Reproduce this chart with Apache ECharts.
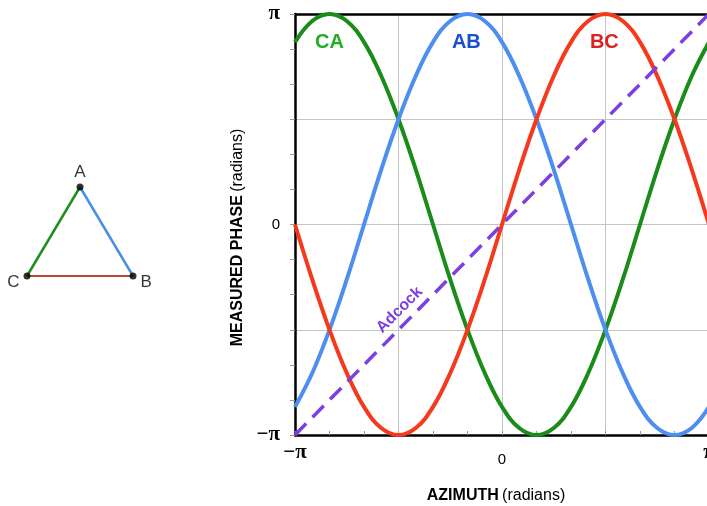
<!DOCTYPE html>
<html>
<head>
<meta charset="utf-8">
<script src="https://cdn.jsdelivr.net/npm/echarts@6/dist/echarts.min.js"></script>
<style>
  html, body { margin: 0; padding: 0; background: #fff; }
  #chart { width: 707px; height: 506px; }
</style>
</head>
<body>
<div id="chart"></div>
<script>
// azimuth and phase are in degrees internally, labelled as radians
const azimuth = [-180, -165, -150, -135, -120, -105, -90, -75, -60, -45, -30, -15, 0,
  15, 30, 45, 60, 75, 90, 105, 120, 135, 150, 165, 180];
const phaseCA = [156, 174, 180, 174, 156, 127, 90, 47, 0, -47, -90, -127, -156,
  -174, -180, -174, -156, -127, -90, -47, 0, 47, 90, 127, 156];
const phaseAB = [-156, -127, -90, -47, 0, 47, 90, 127, 156, 174, 180, 174, 156,
  127, 90, 47, 0, -47, -90, -127, -156, -174, -180, -174, -156];
const phaseBC = [0, -47, -90, -127, -156, -174, -180, -174, -156, -127, -90, -47, 0,
  47, 90, 127, 156, 174, 180, 174, 156, 127, 90, 47, 0];
const adcock = [[-180, -180], [180, 180]];

// triangle sketch: vertices and edges
const vertexA = [0.5, 1];
const vertexB = [1, 0];
const vertexC = [0, 0];

const GREEN = '#1a8c1a';
const BLUE = '#4d8ff0';
const RED = '#f5391c';
const PURPLE = '#7b3fe4';

const chart = echarts.init(document.getElementById('chart'));

const piLabel = (v) => {
  if (v === -180) return '{p|−π}';
  if (v === 180) return '{p|π}';
  if (v === 0) return '{z|0}';
  return '';
};
const labelRich = {
  p: {fontFamily: 'Liberation Serif', fontWeight: 'bold', fontSize: 21, color: '#000'},
  z: {fontFamily: 'Liberation Sans', fontSize: 15, color: '#000'}
};
const xLabelRich = {
  p: labelRich.p,
  z: {fontFamily: 'Liberation Sans', fontSize: 15, color: '#000', padding: [10, 0, 0, 0]}
};
const nameRich = {
  b: {fontFamily: 'Liberation Sans', fontWeight: 'bold', fontSize: 16, color: '#000'},
  n: {fontFamily: 'Liberation Sans', fontSize: 16, color: '#000'}
};

const zipped = (ys) => azimuth.map((a, i) => [a, ys[i]]);

const textMark = (text, at, color, size, rotate) => ({
  symbol: 'circle',
  symbolSize: 1,
  itemStyle: {color: 'transparent'},
  label: {
    show: true,
    position: 'inside',
    formatter: text,
    rotate: rotate || 0,
    fontFamily: 'Liberation Sans',
    fontWeight: 'bold',
    fontSize: size,
    color: color
  },
  data: [{coord: at}]
});

const curve = (name, ys, color, at, textColor) => ({
  name: name,
  type: 'line',
  xAxisIndex: 0,
  yAxisIndex: 0,
  smooth: 0.4,
  showSymbol: false,
  lineStyle: {color: color, width: 4},
  data: zipped(ys),
  markPoint: textMark(name, at, textColor, 20),
  z: 3
});

chart.setOption({
  animation: false,
  grid: [
    {left: 295, top: 14, width: 414, height: 421, outerBoundsMode: 'none', containLabel: false},
    {left: 27, top: 187, width: 106, height: 89, outerBoundsMode: 'none', containLabel: false}
  ],
  xAxis: [
    {
      type: 'value', gridIndex: 0, min: -180, max: 180, interval: 30,
      name: '{b|AZIMUTH} {n|(radians)}',
      nameLocation: 'middle', nameGap: 53,
      nameTextStyle: {rich: nameRich, padding: [0, 12, 0, 0]},
      axisLine: {onZero: false, lineStyle: {color: '#000', width: 2.5}},
      axisTick: {inside: true, length: 4, lineStyle: {color: '#999'}},
      axisLabel: {formatter: piLabel, rich: xLabelRich, margin: 7},
      splitLine: {show: true, lineStyle: {color: ['#c4c4c4', 'transparent', 'transparent'], width: 1}}
    },
    {
      type: 'value', gridIndex: 0, position: 'top', min: -180, max: 180,
      axisLine: {show: true, onZero: false, lineStyle: {color: '#000', width: 2.5}},
      axisTick: {show: false}, axisLabel: {show: false}, splitLine: {show: false}
    },
    {
      type: 'value', gridIndex: 1, min: 0, max: 1, show: false
    }
  ],
  yAxis: [
    {
      type: 'value', gridIndex: 0, min: -180, max: 180, interval: 30,
      name: '{b|MEASURED PHASE} {n|(radians)}',
      nameLocation: 'middle', nameGap: 48,
      nameTextStyle: {rich: nameRich, padding: [0, 26, 0, 0]},
      axisLine: {show: true, onZero: false, lineStyle: {color: '#000', width: 2.5}},
      axisTick: {show: true, length: 5, lineStyle: {color: '#999'}},
      axisLabel: {formatter: piLabel, rich: labelRich, margin: 15},
      splitLine: {show: true, lineStyle: {color: ['#c4c4c4', 'transparent', 'transparent'], width: 1}}
    },
    {
      type: 'value', gridIndex: 1, min: 0, max: 1, show: false
    }
  ],
  series: [
    curve('CA', phaseCA, GREEN, [-150, 156], '#22ad22'),
    curve('AB', phaseAB, BLUE, [-31, 156], '#1a4fd0'),
    curve('BC', phaseBC, RED, [89, 156], '#dd2222'),
    {
      name: 'Adcock',
      type: 'line',
      showSymbol: false,
      lineStyle: {color: PURPLE, width: 3.5, type: [16, 9]},
      data: adcock,
      markPoint: textMark('Adcock', [-89, -73], PURPLE, 16, 45),
      z: 4
    },
    {
      type: 'line', xAxisIndex: 2, yAxisIndex: 1, showSymbol: false,
      lineStyle: {color: '#1f8f1f', width: 2.5}, data: [vertexC, vertexA]
    },
    {
      type: 'line', xAxisIndex: 2, yAxisIndex: 1, showSymbol: false,
      lineStyle: {color: '#4a90e2', width: 2.5}, data: [vertexA, vertexB]
    },
    {
      type: 'line', xAxisIndex: 2, yAxisIndex: 1, showSymbol: false,
      lineStyle: {color: '#c0452b', width: 2}, data: [vertexB, vertexC]
    },
    {
      type: 'scatter', xAxisIndex: 2, yAxisIndex: 1, symbolSize: 7,
      itemStyle: {color: '#000'},
      label: {
        show: true, fontFamily: 'Liberation Sans', fontSize: 17, color: '#000',
        formatter: (p) => p.data.name
      },
      data: [
        {name: 'A', value: vertexA, label: {position: 'top', distance: 3}},
        {name: 'B', value: vertexB, label: {position: 'right', distance: 4, offset: [0, 6]}},
        {name: 'C', value: vertexC, label: {position: 'left', distance: 4, offset: [0, 6]}}
      ],
      z: 5
    }
  ]
});
</script>
</body>
</html>
